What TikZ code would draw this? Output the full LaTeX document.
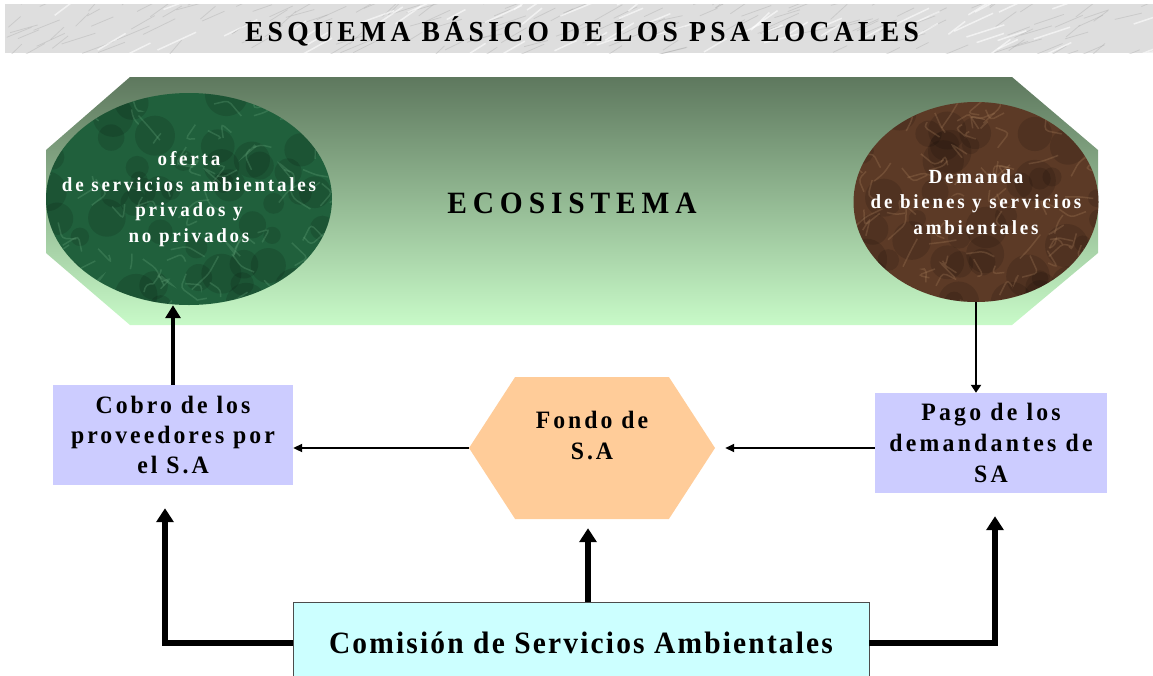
\documentclass[tikz,border=0pt]{standalone}
\usepackage{fontspec}
\setmainfont{Liberation Serif}
\newfontfamily\spfont[FakeStretch=0.95]{Liberation Serif}
\usetikzlibrary{positioning, arrows.meta, shapes.geometric, shapes.symbols}

\definecolor{boxblue}{RGB}{204,204,255}
\definecolor{fondonaranja}{RGB}{255,204,153}
\definecolor{comcyan}{RGB}{204,255,255}
\definecolor{ecotop}{RGB}{94,120,94}
\definecolor{ecobottom}{RGB}{200,250,200}
\definecolor{verdeoferta}{RGB}{32,96,60}
\definecolor{verdeclaro}{RGB}{100,165,122}
\definecolor{cafedemanda}{RGB}{92,58,38}
\definecolor{cafeclaro}{RGB}{165,125,90}
\definecolor{marmol}{RGB}{222,222,222}

% size, leading, letter spacing
\newcommand{\spaced}[3]{\spfont\bfseries\fontsize{#1}{#2}\selectfont\addfontfeature{LetterSpace=#3}}

\tikzset{
  flujo/.style={-{Triangle[length=9pt,width=8pt]}, line width=2pt},
  gruesa/.style={-{Triangle[length=14pt,width=17pt]}, line width=6pt},
  caja/.style={rectangle, fill=boxblue, minimum width=240pt, minimum height=100pt,
    inner sep=0pt, align=center, font=\spaced{25}{30}{12}},
  bola/.style={ellipse, inner sep=0pt},
  textobola/.style={align=center, text=white, font=\spaced{20}{25.5}{14}},
  hexa/.style={signal, signal to=west and east, signal pointer angle=114,
    fill=fondonaranja, minimum width=246pt, minimum height=142pt, inner sep=0pt},
}

\begin{document}
\begin{tikzpicture}[x=1pt, y=-1pt]
  \useasboundingbox (0,0) rectangle (1153,675);

  % title band
  \fill[marmol] (5,4) rectangle (1153,53);
  \begin{scope}
    \clip (5,4) rectangle (1153,53);
    \pgfmathsetseed{11}
    \foreach \i in {1,...,160}
      \draw[gray!70, opacity=0.35, line width=0.8pt]
        ({rnd*1153},{rnd*55+4}) -- ++({12+rnd*22},{-6-rnd*10});
    \foreach \i in {1,...,60}
      \draw[white, opacity=0.6, line width=1.5pt]
        ({rnd*1153},{rnd*55+4}) -- ++({15+rnd*25},{-8-rnd*10});
  \end{scope}
  \node[anchor=base, font=\spaced{29}{34}{15}] (titulo) at (582,41)
    {ESQUEMA BÁSICO DE LOS PSA LOCALES};

  % ecosistema banner
  \shade[top color=ecotop, bottom color=ecobottom]
    (130,77) -- (1012,77) -- (1098,150) -- (1098,253) -- (1012,325)
    -- (130,325) -- (46,253) -- (46,150) -- cycle;
  \node[anchor=base, font=\spaced{31}{36}{19}] (eco) at (572,213) {ECOSISTEMA};

  % the two ellipses
  \pgfmathsetseed{5}
  \node[bola, fill=verdeoferta, minimum width=286pt, minimum height=212pt,
    path picture={
      \foreach \i in {1,...,50}
        \fill[black, opacity=0.12]
          ([shift={(rand*145,rand*108)}]path picture bounding box.center)
          circle ({8+rnd*14});
      \foreach \i in {1,...,90}
        \draw[verdeclaro, opacity=0.3, line width=1.5pt, rounded corners=4pt]
          ([shift={(rand*145,rand*108)}]path picture bounding box.center)
          -- ++(rand*18,rand*18) -- ++(rand*18,rand*18);
    }] (oferta) at (189,199) {};
  \node[textobola] (ofertatxt) at (oferta.center)
    {oferta\\de servicios ambientales\\privados y\\no privados};

  \node[bola, fill=cafedemanda, minimum width=245pt, minimum height=200pt,
    path picture={
      \foreach \i in {1,...,50}
        \fill[black, opacity=0.12]
          ([shift={(rand*125,rand*102)}]path picture bounding box.center)
          circle ({8+rnd*14});
      \foreach \i in {1,...,90}
        \draw[cafeclaro, opacity=0.3, line width=1.5pt, rounded corners=4pt]
          ([shift={(rand*125,rand*102)}]path picture bounding box.center)
          -- ++(rand*18,rand*18) -- ++(rand*18,rand*18);
    }] (demanda) at (976,202) {};
  \node[textobola] (demandatxt) at (demanda.center)
    {Demanda\\de bienes y servicios\\ambientales};

  % middle row
  \node[caja] (cobro) at (173,435) {Cobro de los\\proveedores por\\el S.A};
  \node[caja, minimum width=232pt, font=\spaced{25}{31}{13}] (pago) at (991,443)
    {Pago de los\\demandantes de\\SA};
  \node[hexa] (fondo) at (592,448) {};
  \node[align=center, font=\spaced{25}{31}{12}] (fondotxt)
    at ([yshift=13pt]fondo.center) {Fondo de\\S.A};

  % commission
  \node[rectangle, fill=comcyan, draw=gray!60!black, line width=0.8pt,
    minimum width=576pt, minimum height=82pt, font=\spaced{31}{36}{7}]
    (comision) at (581,643) {Comisión de Servicios Ambientales};

  \coordinate (llegaizq) at ([shift={(-8,23)}]cobro.south);
  \coordinate (llegader) at ([shift={(4,23)}]pago.south);
  \coordinate (llegafondo) at ([shift={(-4,9)}]fondo.south);

  % connectors
  \draw[-{Triangle[length=13pt,width=15pt]}, line width=3.5pt]
    (cobro.north) -- (cobro.north |- oferta.south);
  \draw[-{Triangle[length=8pt,width=10pt]}, line width=2.5pt]
    (demanda.south) -- (demanda.south |- pago.north);
  \draw[flujo] (fondo.west) -- (fondo.west -| cobro.east);
  \draw[flujo, shorten >=10pt] (pago.west |- fondo.east) -- (fondo.east);

  \draw[gruesa] (comision.west) -| (llegaizq);
  \draw[gruesa] (comision.east) -| (llegader);
  \draw[gruesa] (comision.north -| llegafondo) -- (llegafondo);
\end{tikzpicture}
\end{document}
